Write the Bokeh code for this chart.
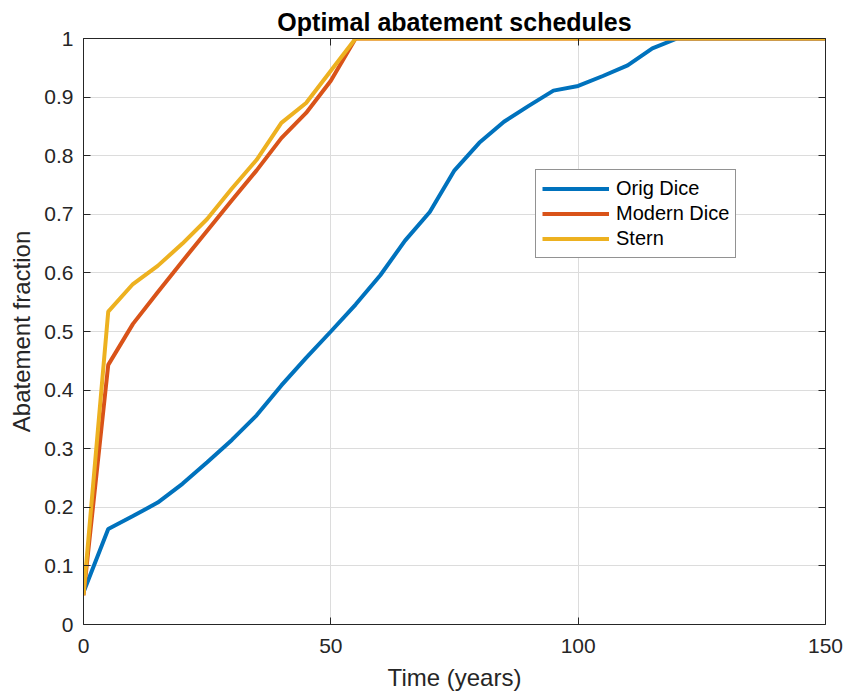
from bokeh.plotting import figure
from bokeh.models import ColumnDataSource, FixedTicker, LinearAxis, Range1d, Legend, LegendItem
from bokeh.embed import file_html
from bokeh.resources import INLINE

# ---- data ----
t = [0, 5, 10, 15, 20, 25, 30, 35, 40, 45, 50, 55, 60, 65, 70, 75, 80, 85, 90, 95,
     100, 105, 110, 115, 120, 125, 130, 135, 140, 145, 150]
orig_dice = [0.055, 0.163, 0.185, 0.208, 0.240, 0.277, 0.315, 0.357, 0.408, 0.455,
             0.500, 0.546, 0.596, 0.655, 0.704, 0.775, 0.822, 0.858, 0.885, 0.911,
             0.919, 0.936, 0.954, 0.983, 1.0, 1.0, 1.0, 1.0, 1.0, 1.0, 1.0]
modern_dice = [0.050, 0.443, 0.513, 0.567, 0.620, 0.672, 0.724, 0.775, 0.830, 0.873,
               0.928, 1.0, 1.0, 1.0, 1.0, 1.0, 1.0, 1.0, 1.0, 1.0,
               1.0, 1.0, 1.0, 1.0, 1.0, 1.0, 1.0, 1.0, 1.0, 1.0, 1.0]
stern = [0.050, 0.534, 0.581, 0.612, 0.650, 0.692, 0.744, 0.793, 0.856, 0.890,
         0.945, 1.0, 1.0, 1.0, 1.0, 1.0, 1.0, 1.0, 1.0, 1.0,
         1.0, 1.0, 1.0, 1.0, 1.0, 1.0, 1.0, 1.0, 1.0, 1.0, 1.0]
series_names = ["Orig Dice", "Modern Dice", "Stern"]
x_ticks = [0, 50, 100, 150]
y_ticks = [0, 0.1, 0.2, 0.3, 0.4, 0.5, 0.6, 0.7, 0.8, 0.9, 1.0]
y_tick_labels = ["0", "0.1", "0.2", "0.3", "0.4", "0.5", "0.6", "0.7", "0.8", "0.9", "1"]

colors = ["#0072BD", "#D95319", "#EDB120"]
FONT = "Liberation Sans"
AX = "#262626"

src = ColumnDataSource(dict(t=t, orig=orig_dice, modern=modern_dice, stern=stern))

p = figure(width=846, height=694, frame_width=742, frame_height=586,
           x_range=Range1d(0, 150), y_range=Range1d(0, 1),
           output_backend="svg", toolbar_location=None,
           min_border_left=83, min_border_right=21, min_border_top=38, min_border_bottom=70)

p.title.text = "Optimal abatement schedules"
p.title.text_font = FONT
p.title.text_font_size = "25px"
p.title.text_font_style = "bold"
p.title.align = "center"
p.title.text_color = "#000000"
p.title.standoff = 6
p.title.offset = 0

renderers = []
for col, c in zip(["orig", "modern", "stern"], colors):
    r = p.line("t", col, source=src, line_color=c, line_width=4)
    renderers.append(r)

def style_axis(ax):
    ax.axis_line_color = AX
    ax.axis_line_width = 1
    ax.major_tick_line_color = AX
    ax.major_tick_in = 7
    ax.major_tick_out = 0
    ax.minor_tick_line_color = None
    ax.major_label_text_font = FONT
    ax.major_label_text_font_size = "21px"
    ax.major_label_text_color = AX
    ax.axis_label_text_font = FONT
    ax.axis_label_text_font_size = "24px"
    ax.axis_label_text_font_style = "normal"
    ax.axis_label_text_color = AX

xa = p.xaxis[0]
ya = p.yaxis[0]
xa.ticker = FixedTicker(ticks=x_ticks)
ya.ticker = FixedTicker(ticks=y_ticks)
ya.major_label_overrides = {v: s for v, s in zip(y_ticks, y_tick_labels)}
xa.axis_label = "Time (years)"
ya.axis_label = "Abatement fraction"
style_axis(xa)
style_axis(ya)
xa.major_label_standoff = 14
ya.major_label_standoff = 10
xa.axis_label_standoff = 8
ya.axis_label_standoff = 6

top = LinearAxis(ticker=FixedTicker(ticks=x_ticks),
                 major_label_overrides={v: "" for v in x_ticks})
right = LinearAxis(ticker=FixedTicker(ticks=y_ticks),
                   major_label_overrides={v: "" for v in y_ticks})
for ax in (top, right):
    style_axis(ax)
    ax.major_label_standoff = 0
p.add_layout(top, "above")
p.add_layout(right, "right")

p.xgrid.ticker = FixedTicker(ticks=x_ticks)
p.ygrid.ticker = FixedTicker(ticks=y_ticks)
p.grid.grid_line_color = "#dcdcdc"
p.grid.grid_line_width = 1
p.outline_line_color = None
p.background_fill_color = "white"
p.border_fill_color = "white"

legend = Legend(items=[LegendItem(label=n, renderers=[r]) for n, r in zip(series_names, renderers)],
                location=(452, 366))
legend.label_text_font = FONT
legend.label_text_font_size = "20px"
legend.label_text_color = "#000000"
legend.glyph_width = 67
legend.glyph_height = 25
legend.label_height = 25
legend.label_standoff = 7
legend.spacing = 0
legend.padding = 6
legend.margin = 0
legend.border_line_color = AX
legend.border_line_width = 1
legend.background_fill_color = "white"
legend.background_fill_alpha = 1
p.add_layout(legend, "center")

open("out.html", "w").write(file_html(p, INLINE))
